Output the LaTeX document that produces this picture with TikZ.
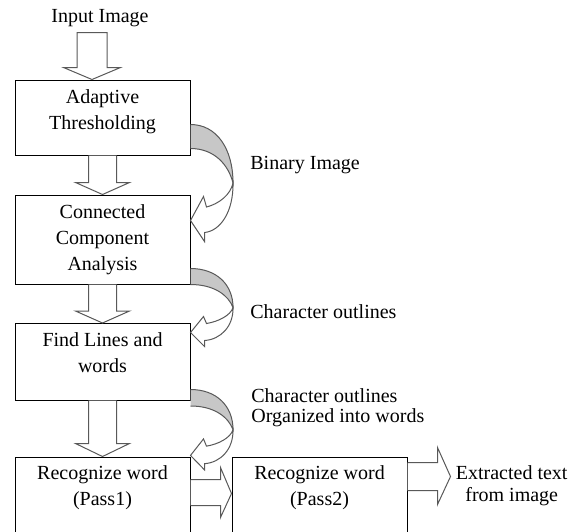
\documentclass[tikz,border=0pt]{standalone}
\usepackage{fontspec}
\setmainfont{Liberation Serif}
\usetikzlibrary{positioning,calc}

\begin{document}
\begin{tikzpicture}[x=0.5pt,y=-0.5pt]
            \tikzset{stage/.style={draw, line width=0.5pt, minimum width=87.5pt, inner sep=0pt},
                     stagetext/.style={align=center, inner sep=0pt, font=\fontsize{10}{13}\selectfont},
                     note/.style={align=left, inner sep=0pt, font=\fontsize{10}{10}\selectfont},
                     fat/.style={draw=black!65, fill=white, line width=0.5pt},
                     pics/bendarrow/.style={code={
                         \filldraw[fill=black!22, draw=black!65, line width=0.5pt] (0,0) .. controls (26,0) and (42.5,16) .. (42.5,39) .. controls (38,27) and (24,16) .. (0,16);
                         \filldraw[fat] (42.5,39) .. controls (43,58) and (30,71) .. (14,72) -- (14,78) -- (0,64) -- (13,48) -- (16,55) .. controls (28,53) and (40,47) .. (42.5,39) -- cycle;
                     }}}

            \useasboundingbox (0,0) rectangle (582,531);
            \clip (0,0) rectangle (582,531);

            % the stages
            \node[stage, minimum height=37.5pt] (b1) at (102.5,117.5) {};
            \node[stage, minimum height=44.5pt] (b2) at (102.5,239.5) {};
            \node[stage, minimum height=38.25pt] (b3) at (102.5,361.75) {};
            \node[stage, minimum height=44pt] (b4) at (102.5,501) {};
            \node[stage, minimum height=44pt] (b5) at (319.5,501) {};

            \node[stagetext, below=5pt of b1.north] (t1) {Adaptive\\Thresholding};
            \node[stagetext, below=5pt of b2.north] (t2) {Connected\\Component\\Analysis};
            \node[stagetext, below=4.5pt of b3.north] (t3) {Find Lines and\\words};
            \node[stagetext, below=4.5pt of b4.north] (t4) {Recognize word\\(Pass1)};
            \node[stagetext, below=4.5pt of b5.north] (t5) {Recognize word\\(Pass2)};

            % texts between the stages
            \node[note] (in) at (100,18) {Input Image};
            \node[note, anchor=west] (l1) at (250,165) {Binary Image};
            \node[note, anchor=west] (l2) at (250,312) {Character outlines};
            \node[note, anchor=west] (l3) at (251,408) {Character outlines\\Organized into words};

            % block arrows
            \coordinate (inbase) at ($(b1.north)+(-10.5,-47)$);
            \coordinate (intip) at ($(b1.north)+(-10.5,0)$);
            \draw[fat] ($(inbase)+(-15,0)$) -- ($(intip)+(-15,-12)$) -- ($(intip)+(-28.5,-12)$) -- (intip)
                -- ($(intip)+(28.5,-12)$) -- ($(intip)+(15,-12)$) -- ($(inbase)+(15,0)$) -- cycle;

            \draw[fat] ($(b1.south)+(-14,0)$) -- ($(b2.north)+(-14,-12)$) -- ($(b2.north)+(-27,-12)$) -- (b2.north)
                -- ($(b2.north)+(27,-12)$) -- ($(b2.north)+(14,-12)$) -- ($(b1.south)+(14,0)$);
            \draw[fat] ($(b2.south)+(-14,0)$) -- ($(b3.north)+(-14,-12)$) -- ($(b3.north)+(-27,-12)$) -- (b3.north)
                -- ($(b3.north)+(27,-12)$) -- ($(b3.north)+(14,-12)$) -- ($(b2.south)+(14,0)$);
            \draw[fat] ($(b3.south)+(-14,0)$) -- ($(b4.north)+(-14,-13)$) -- ($(b4.north)+(-27,-13)$) -- (b4.north)
                -- ($(b4.north)+(27,-13)$) -- ($(b4.north)+(14,-13)$) -- ($(b3.south)+(14,0)$);

            \draw[fat] ($(b4.north east)+(0,23)$) -- ($(b5.north west)+(-11,23)$) -- ($(b5.north west)+(-11,11)$)
                -- ($(b5.north west)+(0,37)$) -- ($(b5.north west)+(-11,61)$) -- ($(b5.north west)+(-11,49)$) -- ($(b4.north east)+(0,49)$);

            \coordinate (outtip) at ($(b5.north east)+(43,20)$);
            \draw[fat] ($(b5.north east)+(0,6)$) -- ($(b5.north east)+(30,6)$) -- ($(b5.north east)+(30,-9)$) -- (outtip)
                -- ($(b5.north east)+(30,48)$) -- ($(b5.north east)+(30,34)$) -- ($(b5.north east)+(0,34)$);
            \node[stagetext, font=\fontsize{10}{11}\selectfont, anchor=west] (out) at ($(outtip)+(5,9)$) {Extracted text\\from image};

            % bent arrows
            \pic[yscale=1.5] at ($(b1.south east)+(0,-31)$) {bendarrow};
            \pic at ($(b2.south east)+(0,-16)$) {bendarrow};
            \pic[yscale=1.03] at ($(b3.south east)+(0,-11)$) {bendarrow};
\end{tikzpicture}
\end{document}
